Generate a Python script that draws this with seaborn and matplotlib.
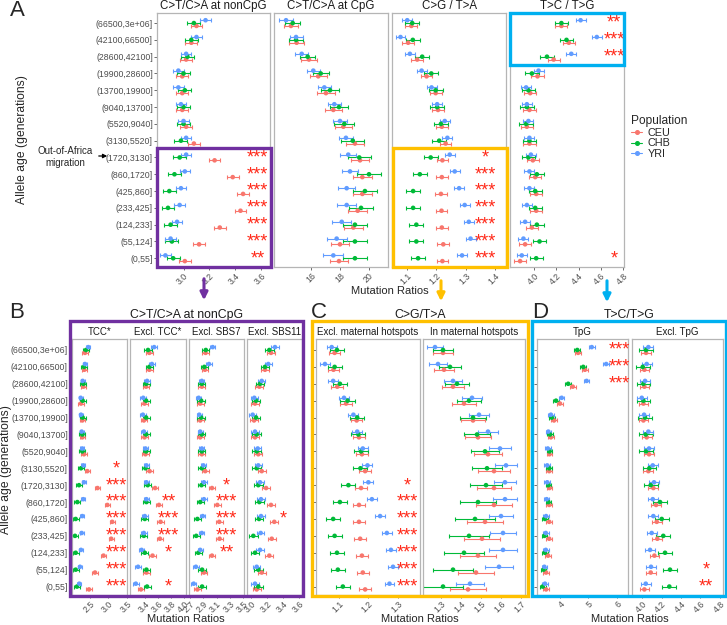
import numpy as np
import pandas as pd
import matplotlib
matplotlib.use("Agg")
import matplotlib.pyplot as plt
import seaborn as sns
from matplotlib.patches import Rectangle, FancyArrowPatch
from matplotlib.lines import Line2D

sns.set_theme(style="white")
plt.rcParams['font.family'] = ['Liberation Sans', 'DejaVu Sans']

# ---------------- data ----------------
age_bins = ["(66500,3e+06]", "(42100,66500]", "(28600,42100]", "(19900,28600]",
            "(13700,19900]", "(9040,13700]", "(5520,9040]", "(3130,5520]",
            "(1720,3130]", "(860,1720]", "(425,860]", "(233,425]",
            "(124,233]", "(55,124]", "(0,55]"]
populations = ["CEU", "CHB", "YRI"]

# A: C>T/C>A at nonCpG
noncpg_ceu = [3.10, 3.06, 3.02, 2.99, 2.99, 2.99, 3.02, 3.08, 3.24, 3.38, 3.46, 3.44, 3.28, 3.12, 3.01]
noncpg_chb = [3.08, 3.06, 3.03, 3.00, 3.01, 3.00, 3.00, 2.98, 2.97, 2.93, 2.89, 2.88, 2.90, 2.91, 2.92]
noncpg_yri = [3.17, 3.10, 3.02, 2.96, 2.96, 2.98, 3.00, 3.02, 3.02, 3.01, 2.98, 2.97, 2.95, 2.90, 2.86]
noncpg_err = [0.045, 0.05, 0.04]

# A: C>T/C>A at CpG
cpg_ceu = [14.62, 15.01, 15.86, 16.50, 17.03, 17.54, 18.23, 19.03, 19.38, 19.54, 19.54, 19.22, 18.92, 18.00, 17.93]
cpg_chb = [14.74, 14.97, 15.77, 16.67, 17.31, 17.93, 18.30, 18.88, 19.33, 20.00, 19.72, 19.45, 19.03, 19.03, 19.03]
cpg_yri = [14.28, 14.97, 15.36, 16.16, 16.92, 17.61, 18.00, 18.41, 18.57, 18.69, 18.46, 18.46, 18.12, 17.77, 17.54]
cpg_err_ceu = [0.5, 0.5, 0.55, 0.6, 0.6, 0.6, 0.6, 0.65, 0.65, 0.65, 0.65, 0.65, 0.65, 0.65, 0.6]
cpg_err_chb = [0.5, 0.5, 0.5, 0.55, 0.6, 0.65, 0.7, 0.8, 0.8, 0.85, 0.85, 0.85, 0.85, 0.85, 0.8]
cpg_err_yri = [0.5, 0.45, 0.45, 0.45, 0.45, 0.45, 0.45, 0.5, 0.55, 0.55, 0.6, 0.65, 0.65, 0.7, 0.7]

# A: C>G / T>A
cgta_ceu = [1.115, 1.104, 1.135, 1.167, 1.198, 1.206, 1.219, 1.232, 1.221, 1.219, 1.216, 1.218, 1.219, 1.224, 1.221]
cgta_chb = [1.118, 1.120, 1.152, 1.183, 1.198, 1.203, 1.216, 1.210, 1.181, 1.144, 1.121, 1.121, 1.132, 1.132, 1.138]
cgta_yri = [1.101, 1.078, 1.110, 1.150, 1.184, 1.203, 1.229, 1.238, 1.246, 1.263, 1.278, 1.297, 1.311, 1.317, 1.288]
cgta_err = [0.02, 0.024, 0.017]

# A: T>C / T>G
tctg_ceu = [4.245, 4.312, 4.175, 4.030, 3.964, 3.957, 3.934, 3.957, 3.988, 4.009, 4.018, 4.018, 3.979, 3.918, 3.873]
tctg_chb = [4.245, 4.291, 4.115, 3.979, 3.948, 3.934, 3.927, 3.957, 3.948, 4.024, 4.009, 4.009, 4.024, 4.048, 4.018]
tctg_yri = [4.418, 4.564, 4.334, 4.039, 3.927, 3.934, 3.948, 3.957, 3.970, 3.957, 3.957, 3.934, 3.918, 3.903, 3.888]
tctg_err = [0.055, 0.06, 0.045]

# B: nonCpG sub-analyses
tcc_ceu = [2.365, 2.346, 2.320, 2.257, 2.293, 2.293, 2.338, 2.427, 2.703, 2.969, 3.100, 3.073, 2.865, 2.635, 2.473]
tcc_chb = [2.392, 2.338, 2.320, 2.302, 2.302, 2.293, 2.293, 2.257, 2.203, 2.158, 2.113, 2.095, 2.113, 2.113, 2.149]
tcc_yri = [2.455, 2.365, 2.302, 2.248, 2.257, 2.275, 2.293, 2.320, 2.338, 2.320, 2.293, 2.275, 2.257, 2.230, 2.212]
tcc_err = [0.07, 0.08, 0.05]

extcc_ceu = [3.46, 3.46, 3.41, 3.385, 3.375, 3.385, 3.40, 3.465, 3.55, 3.61, 3.635, 3.625, 3.51, 3.415, 3.33]
extcc_chb = [3.44, 3.46, 3.41, 3.41, 3.41, 3.41, 3.41, 3.40, 3.435, 3.415, 3.39, 3.375, 3.39, 3.415, 3.425]
extcc_yri = [3.535, 3.50, 3.425, 3.365, 3.36, 3.375, 3.40, 3.415, 3.415, 3.415, 3.39, 3.375, 3.34, 3.285, 3.25]
extcc_err = [0.05, 0.055, 0.045]

exsbs7_ceu = [2.934, 2.925, 2.878, 2.854, 2.854, 2.854, 2.878, 2.929, 3.030, 3.110, 3.139, 3.144, 3.030, 2.910, 2.812]
exsbs7_chb = [2.938, 2.915, 2.878, 2.868, 2.868, 2.878, 2.878, 2.878, 2.873, 2.854, 2.812, 2.794, 2.826, 2.882, 2.882]
exsbs7_yri = [3.041, 2.985, 2.878, 2.831, 2.840, 2.854, 2.878, 2.901, 2.910, 2.910, 2.892, 2.878, 2.854, 2.789, 2.756]
exsbs7_err = [0.05, 0.055, 0.04]

exsbs11_ceu = [3.25, 3.175, 3.104, 3.05, 3.038, 3.05, 3.091, 3.134, 3.188, 3.25, 3.291, 3.259, 3.229, 3.134, 3.071]
exsbs11_chb = [3.229, 3.175, 3.113, 3.063, 3.063, 3.071, 3.071, 3.071, 3.091, 3.104, 3.10, 3.029, 3.05, 3.091, 3.091]
exsbs11_yri = [3.30, 3.216, 3.134, 3.041, 3.021, 3.05, 3.084, 3.091, 3.113, 3.125, 3.125, 3.121, 3.113, 3.071, 3.05]
exsbs11_err = [0.05, 0.055, 0.045]

# C: C>G/T>A maternal hotspots
exmat_ceu = [1.085, 1.081, 1.094, 1.124, 1.160, 1.168, 1.178, 1.189, 1.175, 1.168, 1.168, 1.172, 1.178, 1.181, 1.189]
exmat_chb = [1.093, 1.085, 1.103, 1.129, 1.162, 1.166, 1.175, 1.173, 1.132, 1.103, 1.080, 1.085, 1.093, 1.096, 1.113]
exmat_yri = [1.075, 1.052, 1.080, 1.117, 1.149, 1.162, 1.181, 1.197, 1.200, 1.212, 1.240, 1.263, 1.277, 1.284, 1.272]
exmat_err = [0.02, 0.024, 0.017]

inmat_ceu = [1.31, 1.315, 1.36, 1.415, 1.46, 1.485, 1.535, 1.565, 1.565, 1.565, 1.52, 1.505, 1.485, 1.475, 1.435]
inmat_chb = [1.31, 1.345, 1.38, 1.44, 1.46, 1.48, 1.52, 1.53, 1.525, 1.485, 1.47, 1.44, 1.415, 1.36, 1.31]
inmat_yri = [1.27, 1.285, 1.36, 1.455, 1.49, 1.535, 1.595, 1.625, 1.62, 1.62, 1.60, 1.61, 1.61, 1.59, 1.445]
inmat_err_ceu = [0.05, 0.05, 0.055, 0.06, 0.06, 0.065, 0.07, 0.08, 0.085, 0.09, 0.09, 0.09, 0.09, 0.09, 0.09]
inmat_err_chb = [0.05, 0.055, 0.06, 0.06, 0.065, 0.065, 0.07, 0.075, 0.08, 0.09, 0.1, 0.1, 0.1, 0.1, 0.1]
inmat_err_yri = [0.04, 0.045, 0.045, 0.05, 0.05, 0.05, 0.055, 0.055, 0.055, 0.06, 0.06, 0.065, 0.07, 0.07, 0.07]

# D: T>C/T>G
tpg_ceu = [4.64, 4.88, 4.45, 4.00, 3.79, 3.68, 3.63, 3.62, 3.63, 3.62, 3.62, 3.62, 3.58, 3.51, 3.51]
tpg_chb = [4.61, 4.82, 4.29, 3.86, 3.71, 3.65, 3.63, 3.62, 3.59, 3.59, 3.47, 3.45, 3.47, 3.42, 3.39]
tpg_yri = [5.12, 5.63, 4.94, 4.06, 3.68, 3.59, 3.57, 3.55, 3.55, 3.53, 3.51, 3.50, 3.50, 3.45, 3.47]
tpg_err = [0.1, 0.1, 0.1]

extpg_ceu = [4.041, 4.024, 4.024, 4.014, 4.014, 4.048, 4.072, 4.065, 4.116, 4.144, 4.151, 4.157, 4.127, 4.089, 4.024]
extpg_chb = [4.041, 4.007, 4.014, 4.014, 4.031, 4.038, 4.041, 4.075, 4.089, 4.185, 4.202, 4.218, 4.236, 4.287, 4.280]
extpg_yri = [4.065, 4.048, 4.031, 3.997, 4.021, 4.065, 4.072, 4.110, 4.123, 4.110, 4.116, 4.099, 4.082, 4.092, 4.038]
extpg_err = [0.05, 0.07, 0.05]

# significance stars: {row index: label}
stars_noncpg = {8: "***", 9: "***", 10: "***", 11: "***", 12: "***", 13: "***", 14: "**"}
stars_cgta = {8: "*", 9: "***", 10: "***", 11: "***", 12: "***", 13: "***", 14: "***"}
stars_tctg = {0: "**", 1: "***", 2: "***", 14: "*"}
stars_tcc = {7: "*", 8: "***", 9: "***", 10: "***", 11: "***", 12: "***", 13: "***", 14: "***"}
stars_extcc = {9: "**", 10: "***", 11: "***", 12: "*", 14: "*"}
stars_exsbs7 = {8: "*", 9: "***", 10: "***", 11: "***", 12: "**"}
stars_exsbs11 = {10: "*"}
stars_exmat = {8: "*", 9: "***", 10: "***", 11: "***", 12: "***", 13: "***", 14: "***"}
stars_tpg = {0: "***", 1: "***", 2: "***"}
stars_extpg = {13: "*", 14: "**"}

# ---------------- figure ----------------
W, H = 727, 625
fig = plt.figure(figsize=(W / 100, H / 100), dpi=100)

palette = {"CEU": "#F8766D", "CHB": "#00BA38", "YRI": "#619CFF"}
dodge = {"CEU": 0.17, "CHB": 0.0, "YRI": -0.17}
PURPLE, GOLD, CYAN = "#7030A0", "#FFC000", "#00B0F0"
TXT = "#4d4d4d"


def add_ax(x0, y0, x1, y1):
    return fig.add_axes([x0 / W, 1 - y1 / H, (x1 - x0) / W, (y1 - y0) / H])


def long_frame(ceu, chb, yri, errs):
    rows = []
    for pop, vals, err in zip(populations, (ceu, chb, yri), errs):
        err = np.broadcast_to(np.asarray(err, dtype=float), (len(vals),))
        for i, (v, e) in enumerate(zip(vals, err)):
            rows.append({"age": age_bins[i], "pop": pop, "ratio": v, "err": e, "y": i + dodge[pop]})
    return pd.DataFrame(rows)


def facet(rect, ceu, chb, yri, errs, xlim, xticks, xlabels, ylim, stars, star_x,
          ylabels=False, yticks=False):
    ax = add_ax(*rect)
    df = long_frame(ceu, chb, yri, errs)
    for pop in populations:
        sub = df[df["pop"] == pop]
        ax.errorbar(sub["ratio"], sub["y"], xerr=sub["err"], fmt="none",
                    ecolor=palette[pop], elinewidth=0.8, capsize=1.6, capthick=0.8)
    sns.scatterplot(data=df, x="ratio", y="y", hue="pop", palette=palette, s=11,
                    edgecolor="none", legend=False, ax=ax, zorder=3)
    for row, lab in stars.items():
        ax.text(star_x, row + 0.02, lab, color="#FF2A1A", fontsize=13,
                ha="center", va="center", zorder=5)
    ax.set_xlim(*xlim)
    ax.set_ylim(*ylim)
    ax.set_xticks(xticks)
    ax.set_xticklabels(xlabels)
    ax.set_yticks(range(len(age_bins)))
    if ylabels:
        ax.set_yticklabels(age_bins)
    else:
        ax.set_yticklabels([])
    ax.tick_params(axis="x", length=2, width=0.5, color="#333333", labelsize=6.3,
                   labelcolor=TXT, pad=1, bottom=True)
    ax.tick_params(axis="y", length=2 if (ylabels or yticks) else 0, width=0.5,
                   color="#333333", labelsize=6.3, labelcolor=TXT, pad=1, left=True)
    plt.setp(ax.get_xticklabels(), rotation=45, ha="right", rotation_mode="anchor")
    ax.set_xlabel("")
    ax.set_ylabel("")
    for s in ax.spines.values():
        s.set_color("#b5b5b5")
        s.set_linewidth(0.9)
    return ax


def strip(x0, x1, y, text, size):
    fig.text((x0 + x1) / 2 / W, 1 - y / H, text, ha="center", va="center",
             fontsize=size, color="#1a1a1a")


def ftext(x, y, text, **kw):
    fig.text(x / W, 1 - y / H, text, **kw)


def box(x0, y0, x1, y1, color):
    fig.add_artist(Rectangle((x0 / W, 1 - y1 / H), (x1 - x0) / W, (y1 - y0) / H,
                             transform=fig.transFigure, fill=False, ec=color,
                             lw=2.4, zorder=20))


def arrow(x, y0, y1, color, lw=2.2, scale=11):
    fig.add_artist(FancyArrowPatch((x / W, 1 - y0 / H), (x / W, 1 - y1 / H),
                                   transform=fig.transFigure, arrowstyle="-|>",
                                   mutation_scale=scale, color=color, lw=lw))


yA = (14.52, -0.6)
yB = (14.5, -0.65)

# ---- panel A ----
facet((157, 13, 270, 267), noncpg_ceu, noncpg_chb, noncpg_yri, noncpg_err,
      (2.795, 3.668), [3.0, 3.2, 3.4, 3.6], ["3.0", "3.2", "3.4", "3.6"], yA,
      stars_noncpg, 3.57, ylabels=True)
facet((274, 13, 388, 267), cpg_ceu, cpg_chb, cpg_yri, [cpg_err_ceu, cpg_err_chb, cpg_err_yri],
      (13.45, 21.31), [16, 18, 20], ["16", "18", "20"], yA, {}, 0)
facet((392, 13, 506, 267), cgta_ceu, cgta_chb, cgta_yri, cgta_err,
      (1.049, 1.438), [1.1, 1.2, 1.3, 1.4], ["1.1", "1.2", "1.3", "1.4"], yA,
      stars_cgta, 1.366)
facet((510, 13, 624, 267), tctg_ceu, tctg_chb, tctg_yri, tctg_err,
      (3.782, 4.809), [4.0, 4.2, 4.4, 4.6, 4.8], ["4.0", "4.2", "4.4", "4.6", "4.8"], yA,
      stars_tctg, 4.718)
for x0, x1, t in [(157, 270, "C>T/C>A at nonCpG"), (274, 388, "C>T/C>A at CpG"),
                  (392, 506, "C>G / T>A"), (510, 624, "T>C / T>G")]:
    strip(x0, x1, 6, t, 8.3)

ftext(17, 11, "A", fontsize=16, ha="center", va="center")
ftext(22, 140, "Allele age (generations)", fontsize=8.7, rotation=90, ha="center", va="center")
ftext(390, 291, "Mutation Ratios", fontsize=8, ha="center", va="center")
ftext(65, 157, "Out-of-Africa\nmigration", fontsize=7, ha="center", va="center", linespacing=1.15)
fig.add_artist(FancyArrowPatch((96 / W, 1 - 156 / H), (110 / W, 1 - 156 / H),
                               transform=fig.transFigure, arrowstyle="-|>",
                               mutation_scale=6, color="black", lw=0.9))

box(157, 148, 271, 267, PURPLE)
box(393, 148, 507, 267, GOLD)
box(510, 13, 624, 65, CYAN)
arrow(204, 276, 303, PURPLE)
arrow(441, 278, 304, GOLD)
arrow(607, 278, 305, CYAN)

handles = [Line2D([0], [0], color=palette[p], marker="o", markersize=2.6, lw=0.8) for p in populations]
fig.legend(handles, populations, title="Population", loc="upper left",
           bbox_to_anchor=(627 / W, 1 - 111 / H), frameon=False, fontsize=7.8,
           title_fontsize=8.6, handlelength=1.0, handletextpad=0.5,
           labelspacing=0.05, alignment="left", borderaxespad=0)

# ---- panel B ----
facet((72, 339, 127, 595), tcc_ceu, tcc_chb, tcc_yri, tcc_err,
      (2.014, 3.5), [2.5, 3.0, 3.5], ["2.5", "3.0", "3.5"], yB, stars_tcc, 3.2, ylabels=True)
facet((130, 339, 186, 595), extcc_ceu, extcc_chb, extcc_yri, extcc_err,
      (3.16, 4.03), [3.4, 3.6, 3.8, 4.0], ["3.4", "3.6", "3.8", "4.0"], yB, stars_extcc, 3.76)
facet((189, 339, 244, 595), exsbs7_ceu, exsbs7_chb, exsbs7_yri, exsbs7_err,
      (2.686, 3.51), [2.7, 2.9, 3.1, 3.3, 3.5], ["2.7", "2.9", "3.1", "3.3", "3.5"], yB,
      stars_exsbs7, 3.247)
facet((247, 339, 302, 595), exsbs11_ceu, exsbs11_chb, exsbs11_yri, exsbs11_err,
      (2.95, 3.6375), [3.0, 3.2, 3.4, 3.6], ["3.0", "3.2", "3.4", "3.6"], yB,
      stars_exsbs11, 3.40)
for x0, x1, t in [(72, 127, "TCC*"), (130, 186, "Excl. TCC*"), (189, 244, "Excl. SBS7"),
                  (247, 302, "Excl. SBS11")]:
    strip(x0, x1, 332, t, 7)
strip(70, 303, 315, "C>T/C>A at nonCpG", 8.8)
ftext(17, 312, "B", fontsize=16, ha="center", va="center")
ftext(6, 470, "Allele age (generations)", fontsize=8.7, rotation=90, ha="center", va="center")
ftext(186, 619, "Mutation Ratios", fontsize=8, ha="center", va="center")
box(70, 321, 303, 596, PURPLE)

# ---- panel C ----
facet((316, 339, 420, 595), exmat_ceu, exmat_chb, exmat_yri, exmat_err,
      (1.0215, 1.376), [1.1, 1.2, 1.3], ["1.1", "1.2", "1.3"], yB, stars_exmat, 1.332,
      yticks=True)
facet((423, 339, 525, 595), inmat_ceu, inmat_chb, inmat_yri,
      [inmat_err_ceu, inmat_err_chb, inmat_err_yri],
      (1.21, 1.72), [1.3, 1.4, 1.5, 1.6, 1.7], ["1.3", "1.4", "1.5", "1.6", "1.7"], yB, {}, 0)
strip(316, 420, 332, "Excl. maternal hotspots", 7)
strip(423, 525, 332, "In maternal hotspots", 7)
strip(312, 528, 315, "C>G/T>A", 8.8)
ftext(319, 312, "C", fontsize=16, ha="center", va="center")
ftext(420, 619, "Mutation Ratios", fontsize=8, ha="center", va="center")
box(312, 321, 528, 596, GOLD)

# ---- panel D ----
facet((537, 339, 628, 595), tpg_ceu, tpg_chb, tpg_yri, tpg_err,
      (3.19, 6.40), [4, 5, 6], ["4", "5", "6"], yB, stars_tpg, 6.08, yticks=True)
facet((632, 339, 723, 595), extpg_ceu, extpg_chb, extpg_yri, extpg_err,
      (3.897, 4.831), [4.0, 4.2, 4.4, 4.6, 4.8], ["4.0", "4.2", "4.4", "4.6", "4.8"], yB,
      stars_extpg, 4.656)
strip(537, 628, 332, "TpG", 7)
strip(632, 723, 332, "Excl. TpG", 7)
strip(532, 726, 315, "T>C/T>G", 8.8)
ftext(540, 312, "D", fontsize=16, ha="center", va="center")
ftext(630, 619, "Mutation Ratios", fontsize=8, ha="center", va="center")
box(532, 321, 725.5, 596, CYAN)

fig.savefig("out.png", dpi=100)
